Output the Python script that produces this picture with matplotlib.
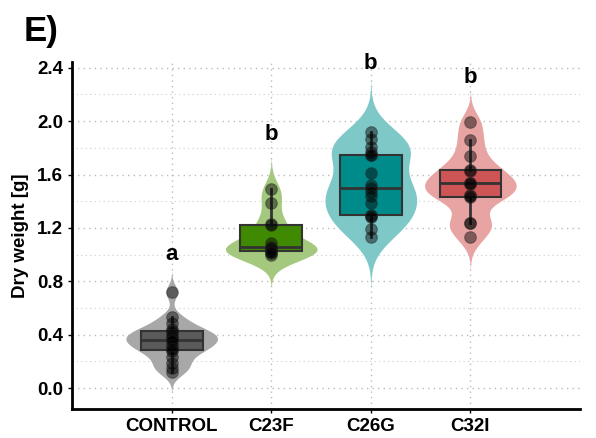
import numpy as np
import matplotlib.pyplot as plt
from matplotlib.ticker import MultipleLocator

groups = ['CONTROL', 'C23F', 'C26G', 'C32I']
control = [0.72, 0.53, 0.49, 0.44, 0.43, 0.42, 0.40, 0.38, 0.37, 0.36, 0.35, 0.32,
           0.30, 0.29, 0.28, 0.23, 0.19, 0.15, 0.12]
c23f = [1.49, 1.39, 1.23, 1.22, 1.09, 1.06, 1.05, 1.04, 1.03, 1.02, 1.01, 1.00]
c26g = [1.92, 1.87, 1.81, 1.77, 1.75, 1.75, 1.61, 1.52, 1.50, 1.47, 1.44, 1.39,
        1.30, 1.29, 1.28, 1.19, 1.13]
c32i = [1.99, 1.86, 1.74, 1.635, 1.63, 1.54, 1.54, 1.53, 1.45, 1.44, 1.43, 1.24,
        1.24, 1.13]
letters = ['a', 'b', 'b', 'b']
letter_y = [1.00, 1.90, 2.43, 2.33]

box_colors = ['#5a5a5a', '#3f8a00', '#008b8b', '#cd5555']
violin_colors = ['#a8a8a8', '#a4c97e', '#7fc8c8', '#e8a3a3']

data = [control, c23f, c26g, c32i]

plt.rcParams['font.family'] = ['Liberation Sans', 'DejaVu Sans']
plt.rcParams['font.weight'] = 'bold'

fig = plt.figure(figsize=(5.96, 4.38), dpi=100)
ax = fig.add_axes([0.121, 0.066, 0.852, 0.793])


def nrd0(x):
    x = np.asarray(x)
    sd = x.std(ddof=1)
    iqr = np.subtract(*np.percentile(x, [75, 25]))
    lo = min(sd, iqr / 1.34)
    return 0.9 * lo * len(x) ** -0.2


# violins (gaussian kde, untrimmed, each scaled to same max width)
for i, vals in enumerate(data):
    vals = np.asarray(vals)
    bw = nrd0(vals)
    ys = np.linspace(vals.min() - 3 * bw, vals.max() + 3 * bw, 300)
    dens = np.exp(-0.5 * ((ys[:, None] - vals[None, :]) / bw) ** 2).sum(axis=1)
    dens = dens / dens.max() * 0.46
    ax.fill_betweenx(ys, i - dens, i + dens, color=violin_colors[i], lw=0, zorder=2)

# boxes
bp = ax.boxplot(data, positions=range(4), widths=0.62, patch_artist=True,
                showfliers=False, zorder=3,
                medianprops=dict(color='#333333', lw=2),
                whiskerprops=dict(color='#333333', lw=2),
                capprops=dict(linewidth=0),
                boxprops=dict(edgecolor='#333333', lw=1.5))
for patch, c in zip(bp['boxes'], box_colors):
    patch.set_facecolor(c)

# points
for i, vals in enumerate(data):
    ax.scatter(np.full(len(vals), i), vals, s=70, color='black', alpha=0.45,
               edgecolors='#222222', linewidths=0.8, zorder=4)

for i, (t, y) in enumerate(zip(letters, letter_y)):
    ax.text(i, y, t, ha='center', va='center', fontsize=16, fontweight='bold', zorder=5)

ax.set_xlim(-1.0, 4.1)
ax.set_ylim(-0.157, 2.445)
ax.set_xticks(range(4))
ax.set_xticklabels(groups, fontsize=13.5, fontweight='bold')
ax.yaxis.set_minor_locator(MultipleLocator(0.2))
ax.set_yticks(np.arange(0, 2.41, 0.4))
ax.set_yticklabels(['%.1f' % v for v in np.arange(0, 2.41, 0.4)], fontsize=13.5, fontweight='bold')
ax.tick_params(axis='y', which='minor', length=0)
ax.tick_params(length=3, width=1)
ax.set_ylabel('Dry weight [g]', fontsize=13.5, fontweight='bold', labelpad=6)

ax.grid(True, which='major', axis='both', linestyle=(0, (1, 3)), color='#bbbbbb', lw=1)
ax.grid(True, which='minor', axis='y', linestyle=(0, (1, 3)), color='#cccccc', lw=0.8)
ax.set_axisbelow(True)

for s in ['top', 'right']:
    ax.spines[s].set_visible(False)
for s in ['left', 'bottom']:
    ax.spines[s].set_linewidth(2)

fig.text(0.040, 0.928, 'E)', fontsize=25, fontweight='bold', va='center')

fig.savefig('out.png', dpi=100)
